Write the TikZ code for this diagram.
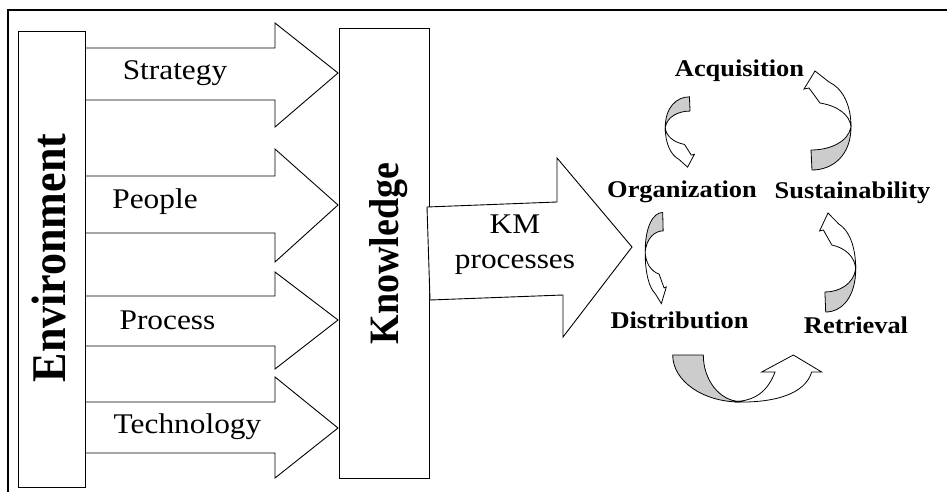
\documentclass[tikz,border=0pt]{standalone}
\usepackage{graphicx}
\usepackage{fontspec}
\setmainfont{Liberation Serif}[FakeStretch=1.1]
\newfontfamily\plainserif{Liberation Serif}

% curved band arrow: grey back face, white front face with head
\newcommand\bentarrow{%
  \draw[backface] (-17,29.5) .. controls (2,29.5) and (20,21.5) .. (23,6.5)
        .. controls (23,34.5) and (5,49.5) .. (-16,49.5) -- cycle;
  \draw[frontface] (23,6.5) .. controls (23,-16.5) and (14,-32.5) .. (1,-38.5)
        -- (-13,-49.5) -- (-24,-31.5) -- (-19,-32.5) -- (-8,-17.5)
        .. controls (10,-14.5) and (22,-5.5) .. (23,6.5) -- cycle;}

% block arrow from the Environment box into the Knowledge box
\newcommand\flowarrow[5]{%
  \draw[fatarrow] (85,#1) -- (275,#1) -- (275,#3) -- (338,#5) -- (275,#4) -- (275,#2) -- (85,#2);}

\begin{document}
\begin{tikzpicture}[x=1pt,y=-1pt,line join=miter,
  box/.style={draw=black,line width=1pt,inner sep=0pt},
  fatarrow/.style={draw=black,line width=0.9pt,fill=white},
  lab/.style={font=\fontsize{28.5}{30}\selectfont,anchor=base,inner sep=0pt},
  stage/.style={font=\fontsize{24}{26}\selectfont\bfseries,anchor=base,inner sep=0pt},
  backface/.style={draw=black,line width=0.8pt,fill=gray!40},
  frontface/.style={draw=black,line width=0.8pt,fill=white}]

\useasboundingbox (0,0) rectangle (947,492);
\clip (0,0) rectangle (947,492);
\fill[white] (0,0) rectangle (947,492);

% outer frame
\draw[line width=1.2pt] (8,10) rectangle (975,520);

% four input arrows
\flowarrow{48}{100}{23}{127}{73}
\flowarrow{176}{233}{149}{262}{205}
\flowarrow{296}{346}{272}{369}{320}
\flowarrow{402}{453}{377}{478}{428}

% the two upright boxes
\node (env) [box,minimum width=67pt,minimum height=455pt] at (51.5,259.5) {};
\node (know) [box,minimum width=90pt,minimum height=449pt] at (384,253.5) {};
\node (envtext) [rotate=90,anchor=base,inner sep=0pt] at (65,258)
  {\plainserif\fontsize{44}{44}\selectfont\bfseries\scalebox{1}[1.1]{Environment}};
\node (knowtext) [rotate=90,anchor=base,inner sep=0pt] at (398,253.5)
  {\plainserif\fontsize{38}{38}\selectfont\bfseries\scalebox{1}[1.1]{Knowledge}};

\node (strategy) [lab] at (175,80) {Strategy};
\node (people) [lab] at (155,208) {People};
\node (process) [lab] at (167.5,329) {Process};
\node (technology) [lab] at (187.5,433) {Technology};

% KM processes arrow
\draw[fatarrow] (427,207) -- (557,202) -- (557,158) -- (632,247) -- (563,337) -- (563,295) -- (430,300) -- cycle;
\node (km) [lab] at (515,233) {KM};
\node (proc) [lab] at (515,268) {processes};

% cycle of KM stages
\node (acq) [stage] at (739.5,77) {Acquisition};
\node (org) [stage] at (682,197) {Organization};
\node (sus) [stage] at (852.5,198) {Sustainability};
\node (dis) [stage] at (679.5,328) {Distribution};
\node (ret) [stage] at (856,333) {Retrieval};

\begin{scope}[shift={(828,120.5)}]
  \bentarrow
\end{scope}
\begin{scope}[shift={(838,262.5)},xscale=0.77]
  \bentarrow
\end{scope}
\begin{scope}[shift={(679.5,132)},rotate=180,xscale=0.62,yscale=0.71]
  \bentarrow
\end{scope}
\begin{scope}[shift={(655.5,258)},rotate=180,xscale=0.45,yscale=0.92]
  \bentarrow
\end{scope}

% curved up arrow from Distribution to Retrieval
\draw[backface] (672.7,355) -- (703.3,355) .. controls (703.3,380) and (719.6,401) .. (740,401.5)
      -- (740,402) .. controls (703,402) and (672.7,381) .. (672.7,355) -- cycle;
\draw[frontface] (735,402) .. controls (775,403) and (805,394) .. (811.7,372) -- (821.7,372)
      -- (793.3,355) -- (761.7,372) -- (775,372) .. controls (768,391) and (755,401) .. (735,401.5) -- cycle;
\end{tikzpicture}
\end{document}
